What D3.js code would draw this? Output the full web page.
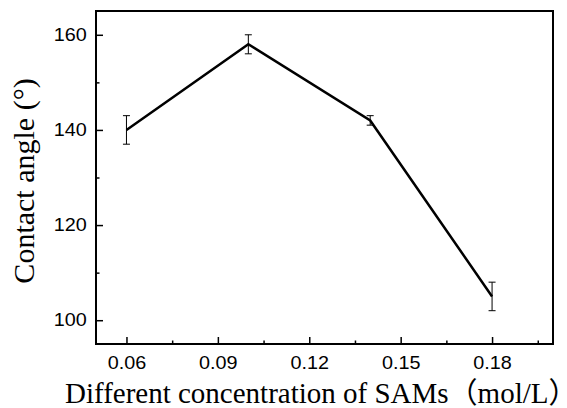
<!DOCTYPE html>
<html>
<head>
<meta charset="utf-8">
<script src="https://cdn.jsdelivr.net/npm/d3@7"></script>
<style>
  body { margin: 0; background: #fff; }
  svg { display: block; }
</style>
</head>
<body>
<div id="chart"></div>
<script>
// data
var concentrations = [0.06, 0.10, 0.14, 0.18];
var contactAngles = [140, 158, 142, 105];
var errors = [3, 2, 1, 3];
var xTickValues = [0.06, 0.09, 0.12, 0.15, 0.18];
var xMinorTicks = [0.075, 0.105, 0.135, 0.165, 0.195];
var yTickValues = [100, 120, 140, 160];
var yMinorTicks = [110, 130, 150];

var width = 567, height = 408;
var margin = {left: 96, right: 14, top: 11, bottom: 64};

var svg = d3.select("#chart")
    .append("svg")
    .attr("width", width)
    .attr("height", height);

var x = d3.scaleLinear()
    .domain([0.05, 0.20])
    .range([margin.left, width - margin.right]);

var y = d3.scaleLinear()
    .domain([95, 165])
    .range([height - margin.bottom, margin.top]);

var tickFont = "'Liberation Sans', Arial, sans-serif";
var labelFont = "'Liberation Serif', 'Times New Roman', 'Noto Sans CJK SC', serif";

// minor ticks first, labels off
svg.append("g")
    .attr("transform", "translate(0," + y.range()[0] + ")")
    .call(d3.axisBottom(x).tickValues(xMinorTicks).tickSize(-3.5).tickFormat(""))
    .call(function(g) { g.select(".domain").remove(); });

svg.append("g")
    .attr("transform", "translate(" + x.range()[0] + ",0)")
    .call(d3.axisLeft(y).tickValues(yMinorTicks).tickSize(-3.5).tickFormat(""))
    .call(function(g) { g.select(".domain").remove(); });

// major ticks, pointing inward
var xAxis = svg.append("g")
    .attr("transform", "translate(0," + y.range()[0] + ")")
    .call(d3.axisBottom(x).tickValues(xTickValues).tickSize(-7).tickPadding(12).tickFormat(d3.format(".2f")));
xAxis.select(".domain").remove();

var yAxis = svg.append("g")
    .attr("transform", "translate(" + x.range()[0] + ",0)")
    .call(d3.axisLeft(y).tickValues(yTickValues).tickSize(-7).tickPadding(8.5).tickFormat(d3.format("d")));
yAxis.select(".domain").remove();

svg.selectAll(".tick line").attr("stroke", "#000").attr("stroke-width", 1.5);
// the source image is a little stretched sideways
svg.selectAll(".tick text")
    .attr("fill", "#000")
    .attr("transform", "scale(1.1,1)")
    .style("font-family", tickFont)
    .style("font-size", "18px");

// frame
svg.append("rect")
    .attr("x", x.range()[0])
    .attr("y", y.range()[1])
    .attr("width", x.range()[1] - x.range()[0])
    .attr("height", y.range()[0] - y.range()[1])
    .attr("fill", "none")
    .attr("stroke", "#000")
    .attr("stroke-width", 2);

var pts = concentrations.map(function(c, i) {
    return {x: c, y: contactAngles[i], e: errors[i]};
});

// error bars
var eb = svg.append("g").attr("stroke", "#000").attr("stroke-width", 1);
pts.forEach(function(d) {
    eb.append("line")
        .attr("x1", x(d.x)).attr("x2", x(d.x))
        .attr("y1", y(d.y - d.e)).attr("y2", y(d.y + d.e));
    [d.y - d.e, d.y + d.e].forEach(function(v) {
        eb.append("line")
            .attr("x1", x(d.x) - 3.5).attr("x2", x(d.x) + 3.5)
            .attr("y1", y(v)).attr("y2", y(v));
    });
});

var line = d3.line()
    .x(function(d) { return x(d.x); })
    .y(function(d) { return y(d.y); });

svg.append("path")
    .datum(pts)
    .attr("d", line)
    .attr("fill", "none")
    .attr("stroke", "#000")
    .attr("stroke-width", 2.5)
    .attr("stroke-linejoin", "miter");

// axis titles
var xTitle = svg.append("text")
    .attr("x", 65)
    .attr("y", 403)
    .style("font-family", labelFont)
    .style("font-size", "29px")
    .attr("fill", "#000");
xTitle.append("tspan").text("Different concentration of SAMs（mol/L");
// half-width advance for the closing bracket so it stays inside the page
xTitle.append("tspan")
    .style("font-feature-settings", "'halt' 1")
    .text("）");

svg.append("text")
    .attr("transform", "translate(34,181) rotate(-90)")
    .attr("text-anchor", "middle")
    .style("font-family", labelFont)
    .style("font-size", "30px")
    .attr("fill", "#000")
    .text("Contact angle (°)");
</script>
</body>
</html>
